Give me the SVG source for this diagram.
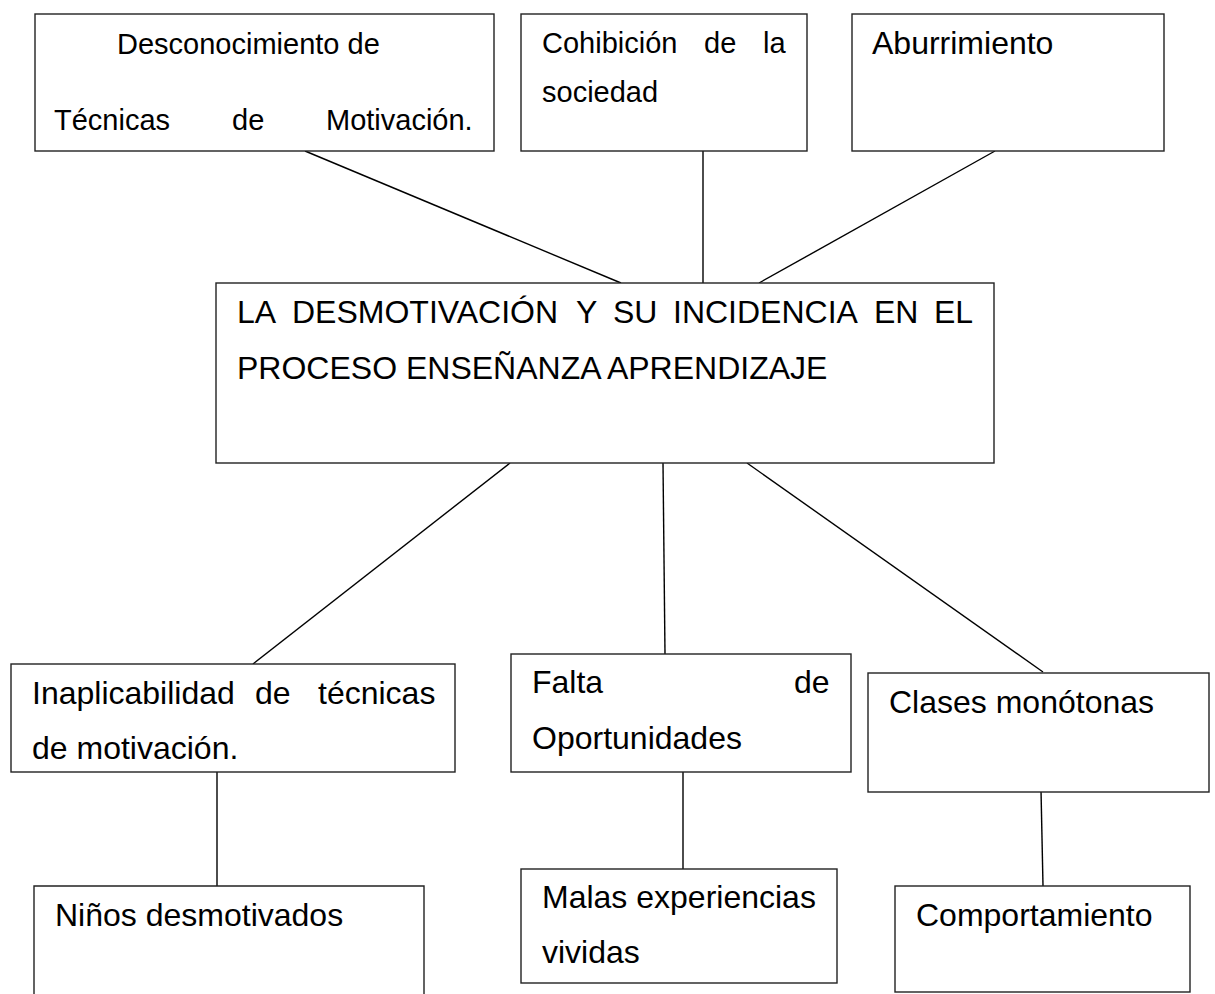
<svg xmlns="http://www.w3.org/2000/svg" width="1215" height="994" viewBox="0 0 1215 994">
<style>
.box{fill:#fff;stroke:#222;stroke-width:1.4}
.ln{stroke:#000;stroke-width:1.4;fill:none}
.t{font-family:"Liberation Sans",Arial,sans-serif;fill:#000}
.s29{font-size:29px}
.s32{font-size:32px}
</style>
<rect width="1215" height="994" fill="#fff"/>
<g id="connectors">
<line class="ln" x1="305" y1="151" x2="621" y2="283"/>
<line class="ln" x1="703" y1="151" x2="703" y2="283"/>
<line class="ln" x1="995" y1="151" x2="759" y2="283"/>
<line class="ln" x1="510" y1="463" x2="253" y2="664"/>
<line class="ln" x1="663" y1="463" x2="665" y2="654"/>
<line class="ln" x1="747" y1="463" x2="1043" y2="672"/>
<line class="ln" x1="217" y1="772" x2="217" y2="886"/>
<line class="ln" x1="683" y1="772" x2="683" y2="869"/>
<line class="ln" x1="1041" y1="790" x2="1043" y2="886"/>
</g>
<g id="n-desconocimiento">
<rect class="box" x="35" y="14" width="459" height="137"/>
<text class="t s29" x="117" y="54">Desconocimiento de</text>
<text class="t s29" y="130"><tspan x="54">Técnicas</tspan><tspan x="232">de</tspan><tspan x="326">Motivación.</tspan></text>
</g>
<g id="n-cohibicion">
<rect class="box" x="521" y="14" width="286" height="137"/>
<text class="t s29" y="53"><tspan x="542">Cohibición</tspan><tspan x="704">de</tspan><tspan x="763">la</tspan></text>
<text class="t s29" x="542" y="102">sociedad</text>
</g>
<g id="n-aburrimiento">
<rect class="box" x="852" y="14" width="312" height="137"/>
<text class="t s32" x="872" y="54">Aburrimiento</text>
</g>
<g id="n-central">
<rect class="box" x="216" y="283" width="778" height="180"/>
<text class="t s32" y="323"><tspan x="237">LA</tspan><tspan x="292">DESMOTIVACIÓN</tspan><tspan x="576">Y</tspan><tspan x="613">SU</tspan><tspan x="673">INCIDENCIA</tspan><tspan x="874">EN</tspan><tspan x="934">EL</tspan></text>
<text class="t s32" x="237" y="379">PROCESO ENSEÑANZA APRENDIZAJE</text>
</g>
<g id="n-inaplicabilidad">
<rect class="box" x="11" y="664" width="444" height="108"/>
<text class="t s32" y="704"><tspan x="32">Inaplicabilidad</tspan><tspan x="255">de</tspan><tspan x="318">técnicas</tspan></text>
<text class="t s32" x="32" y="759">de motivación.</text>
</g>
<g id="n-falta">
<rect class="box" x="511" y="654" width="340" height="118"/>
<text class="t s32" y="693"><tspan x="532">Falta</tspan><tspan x="794">de</tspan></text>
<text class="t s32" x="532" y="749">Oportunidades</text>
</g>
<g id="n-clases">
<rect class="box" x="868" y="673" width="341" height="119"/>
<text class="t s32" x="889" y="713">Clases monótonas</text>
</g>
<g id="n-ninos">
<path class="box" d="M34,1000 V886 H424 V1000"/>
<text class="t s32" x="55" y="926">Niños desmotivados</text>
</g>
<g id="n-malas">
<rect class="box" x="521" y="869" width="316" height="114"/>
<text class="t s32" x="542" y="908">Malas experiencias</text>
<text class="t s32" x="542" y="963">vividas</text>
</g>
<g id="n-comportamiento">
<rect class="box" x="895" y="886" width="295" height="106"/>
<text class="t s32" x="916" y="926">Comportamiento</text>
</g>
</svg>
